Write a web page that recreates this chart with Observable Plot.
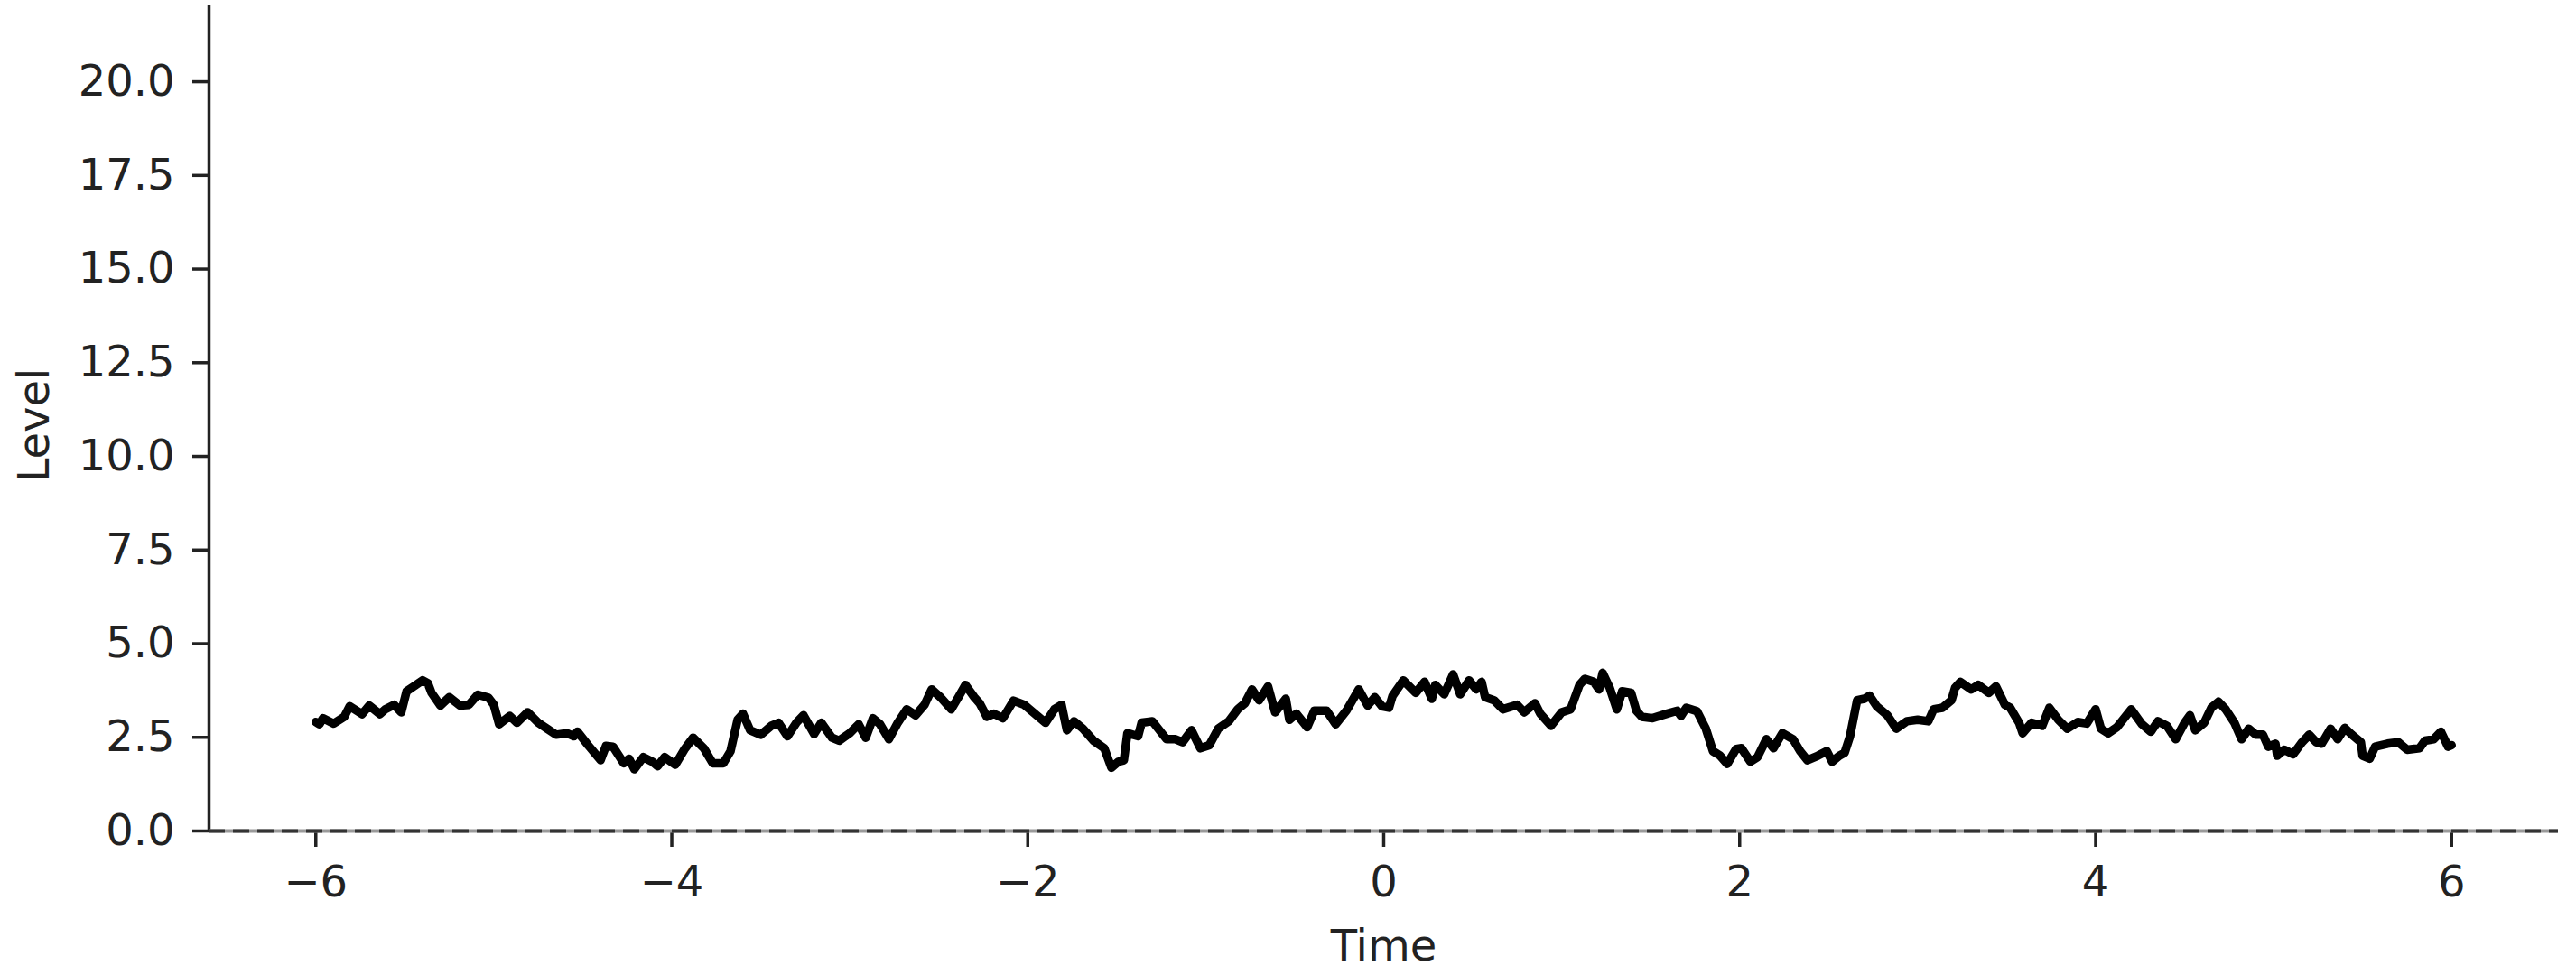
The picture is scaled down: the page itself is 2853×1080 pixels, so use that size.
<!DOCTYPE html>
<html>
<head>
<meta charset="utf-8">
<script src="https://cdn.jsdelivr.net/npm/d3@7"></script>
<script src="https://cdn.jsdelivr.net/npm/@observablehq/plot@0.6"></script>
<style>
  html, body { margin: 0; padding: 0; background: #ffffff; }
  #chart svg { display: block; }
</style>
</head>
<body>
<div id="chart"></div>
<script>
const times = [
  -6.00,-5.98,-5.96,-5.90,-5.84,-5.81,-5.74,-5.70,-5.64,-5.61,-5.56,-5.52,-5.49,-5.45,-5.40,-5.37,-5.35,-5.30,-5.25,-5.19,
  -5.14,-5.09,-5.03,-5.00,-4.97,-4.91,-4.87,-4.81,-4.75,-4.70,-4.65,-4.59,-4.55,-4.53,-4.47,-4.40,-4.37,-4.33,-4.27,-4.24,
  -4.21,-4.16,-4.11,-4.08,-4.04,-3.98,-3.93,-3.88,-3.82,-3.77,-3.71,-3.67,-3.63,-3.60,-3.56,-3.50,-3.44,-3.40,-3.35,-3.30,
  -3.26,-3.20,-3.16,-3.10,-3.06,-3.00,-2.95,-2.91,-2.87,-2.83,-2.78,-2.73,-2.68,-2.63,-2.58,-2.54,-2.49,-2.43,-2.39,-2.35,
  -2.30,-2.27,-2.23,-2.19,-2.14,-2.08,-2.02,-1.96,-1.90,-1.85,-1.81,-1.78,-1.74,-1.69,-1.63,-1.57,-1.53,-1.49,-1.46,-1.44,
  -1.38,-1.36,-1.30,-1.22,-1.17,-1.13,-1.08,-1.03,-0.98,-0.93,-0.87,-0.82,-0.78,-0.74,-0.70,-0.65,-0.61,-0.55,-0.53,-0.49,
  -0.43,-0.39,-0.32,-0.27,-0.21,-0.14,-0.09,-0.05,-0.01,0.03,0.05,0.11,0.18,0.23,0.27,0.29,0.34,0.39,0.43,0.48,
  0.52,0.55,0.57,0.62,0.67,0.75,0.79,0.85,0.88,0.94,1.00,1.05,1.10,1.13,1.18,1.21,1.23,1.27,1.31,1.34,
  1.39,1.42,1.45,1.51,1.59,1.65,1.67,1.70,1.76,1.81,1.85,1.89,1.93,1.98,2.01,2.06,2.10,2.15,2.19,2.24,
  2.30,2.34,2.38,2.44,2.49,2.52,2.56,2.59,2.62,2.66,2.70,2.73,2.77,2.83,2.88,2.94,3.00,3.06,3.09,3.14,
  3.19,3.21,3.24,3.30,3.34,3.40,3.44,3.49,3.52,3.57,3.59,3.64,3.70,3.74,3.79,3.84,3.90,3.95,4.00,4.03,
  4.07,4.12,4.20,4.26,4.31,4.35,4.40,4.45,4.50,4.53,4.56,4.61,4.65,4.69,4.73,4.78,4.82,4.86,4.90,4.94,
  4.97,5.01,5.02,5.06,5.11,5.16,5.20,5.24,5.27,5.32,5.36,5.40,5.44,5.49,5.50,5.54,5.57,5.64,5.70,5.75,
  5.82,5.85,5.90,5.94,5.98,6.00
];
const levels = [
  2.91,2.85,3.01,2.87,3.05,3.33,3.12,3.35,3.12,3.25,3.37,3.17,3.73,3.86,4.02,3.94,3.69,3.35,3.57,3.35,
  3.37,3.64,3.56,3.37,2.85,3.07,2.89,3.17,2.89,2.73,2.57,2.61,2.53,2.65,2.29,1.89,2.27,2.25,1.81,1.93,
  1.65,1.97,1.85,1.73,1.97,1.77,2.17,2.49,2.21,1.81,1.81,2.13,2.97,3.13,2.69,2.57,2.81,2.89,2.53,2.89,
  3.09,2.59,2.89,2.49,2.41,2.61,2.85,2.49,3.01,2.85,2.45,2.89,3.25,3.09,3.37,3.78,3.57,3.25,3.57,3.90,
  3.57,3.41,3.05,3.13,3.01,3.48,3.37,3.13,2.89,3.25,3.37,2.69,2.93,2.73,2.41,2.21,1.69,1.85,1.89,2.61,
  2.53,2.89,2.93,2.45,2.45,2.37,2.69,2.21,2.29,2.73,2.93,3.25,3.41,3.78,3.49,3.86,3.17,3.53,2.97,3.13,
  2.77,3.21,3.21,2.85,3.21,3.78,3.35,3.57,3.33,3.29,3.61,4.02,3.69,3.98,3.53,3.90,3.65,4.18,3.65,4.02,
  3.78,3.98,3.57,3.49,3.25,3.37,3.17,3.41,3.13,2.81,3.17,3.25,3.90,4.06,3.98,3.78,4.22,3.82,3.25,3.73,
  3.69,3.21,3.05,3.01,3.13,3.21,3.07,3.29,3.20,2.73,2.13,2.01,1.79,2.19,2.21,1.85,1.97,2.45,2.21,2.61,
  2.45,2.13,1.89,2.01,2.13,1.85,2.01,2.09,2.53,3.49,3.53,3.61,3.33,3.09,2.73,2.93,2.97,2.93,3.25,3.29,
  3.49,3.82,3.98,3.78,3.90,3.69,3.86,3.37,3.29,2.89,2.61,2.89,2.81,3.29,2.97,2.73,2.91,2.87,3.25,2.73,
  2.61,2.77,3.25,2.85,2.65,2.93,2.81,2.45,2.89,3.09,2.69,2.89,3.29,3.45,3.25,2.89,2.45,2.73,2.57,2.57,
  2.25,2.33,2.01,2.17,2.05,2.37,2.57,2.37,2.33,2.73,2.45,2.75,2.57,2.37,2.01,1.93,2.25,2.33,2.37,2.17,
  2.21,2.41,2.45,2.65,2.25,2.29
];
const xTicks = [-6, -4, -2, 0, 2, 4, 6];
const yTicks = [0, 2.5, 5, 7.5, 10, 12.5, 15, 17.5, 20];
const xLabel = "Time";
const yLabel = "Level";

const data = times.map((t, i) => ({time: t, level: levels[i]}));

const ink = "#222222";

const chart = Plot.plot({
  width: 2853,
  height: 1080,
  marginLeft: 231,
  marginRight: 20,
  marginTop: 5,
  marginBottom: 160,
  style: {fontFamily: "DejaVu Sans", fontSize: "48px", color: ink, background: "#ffffff"},
  x: {domain: [-6.6, 6.6]},
  y: {domain: [0, 22.05]},
  marks: [
    Plot.axisX({ticks: xTicks, tickFormat: d3.format("d"), tickSize: 18, tickPadding: 20, strokeWidth: 3.5, label: null, fontSize: 48}),
    Plot.axisY({ticks: yTicks, tickFormat: d3.format(".1f"), tickSize: 18, tickPadding: 20, strokeWidth: 3.5, label: null, fontSize: 48}),
    Plot.ruleX([-6.6], {stroke: ink, strokeWidth: 3.5}),
    Plot.ruleY([0], {stroke: "#9a9a9a", strokeWidth: 4}),
    Plot.ruleY([0], {stroke: "#333333", strokeWidth: 4, strokeDasharray: "18,9"}),
    Plot.line(data, {x: "time", y: "level", stroke: "#000000", strokeWidth: 9.5, strokeLinejoin: "round", strokeLinecap: "round"}),
    Plot.text([xLabel], {frameAnchor: "bottom", dy: 128, text: d => d, fontSize: 48, fill: ink, textAnchor: "middle", lineAnchor: "middle"}),
    Plot.text([yLabel], {frameAnchor: "left", dx: -193, dy: 8, rotate: -90, text: d => d, fontSize: 48, fill: ink, textAnchor: "middle", lineAnchor: "middle"})
  ]
});

document.getElementById("chart").appendChild(chart);
</script>
</body>
</html>
